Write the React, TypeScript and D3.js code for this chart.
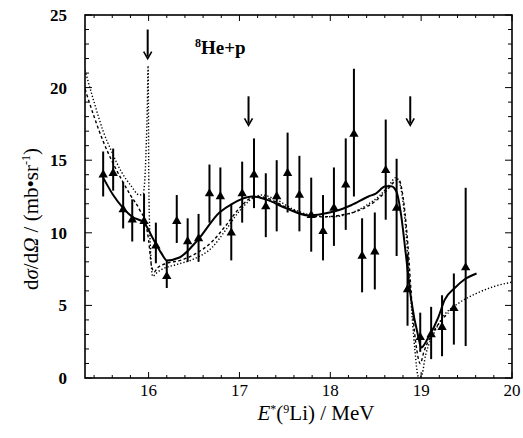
import React, { useEffect, useRef } from 'react';
import * as d3 from 'd3';

// measured points (E in MeV, cross section in mb/sr)
const energies = [15.5, 15.61, 15.72, 15.82, 15.95, 16.08, 16.2, 16.31, 16.43, 16.55, 16.67, 16.79, 16.91, 17.03, 17.16, 17.29, 17.41,
  17.53, 17.66, 17.79, 17.92, 18.04, 18.17, 18.26, 18.35, 18.49, 18.61, 18.73, 18.85, 18.99, 19.11, 19.23, 19.36, 19.49];
const values = [14.0, 14.1, 11.6, 10.9, 10.8, 9.1, 7.0, 10.8, 9.4, 9.6, 12.7, 12.5, 10.0, 12.7, 14.0, 11.8, 12.5,
  14.1, 12.6, 11.2, 10.1, 11.7, 13.3, 16.8, 8.4, 8.7, 14.3, 11.7, 6.1, 2.8, 3.0, 3.5, 4.8, 7.6];
const errLow = [12.5, 12.9, 10.3, 9.4, 9.4, 7.9, 6.2, 9.3, 8.0, 8.0, 10.7, 10.5, 8.1, 10.7, 11.7, 9.7, 10.1,
  11.4, 10.1, 8.7, 8.1, 9.1, 10.2, 12.5, 5.9, 6.1, 10.9, 8.4, 3.6, 1.8, 1.3, 1.5, 2.3, 2.2];
const errHigh = [15.6, 15.8, 13.5, 12.3, 12.7, 10.7, 8.1, 12.6, 11.0, 11.3, 14.7, 14.5, 12.0, 14.9, 16.5, 14.1, 15.0,
  16.9, 15.3, 13.8, 12.6, 14.5, 16.5, 21.3, 11.0, 11.4, 17.8, 15.1, 8.5, 4.5, 4.9, 5.7, 7.2, 13.1];

// R-matrix fit (solid)
const fitE = [15.5, 15.61, 15.72, 15.82, 15.95, 16.04, 16.14, 16.2, 16.34, 16.54, 16.78, 16.92, 17.14, 17.29, 17.51, 17.76, 17.91,
  18.06, 18.23, 18.42, 18.5, 18.61, 18.67, 18.73, 18.78, 18.83, 18.89, 18.97, 19.0, 19.08, 19.19, 19.26, 19.37, 19.48, 19.61];
const fitV = [13.8, 12.6, 11.7, 11.1, 10.7, 9.7, 8.6, 8.1, 8.3, 9.5, 11.4, 12.0, 12.5, 12.3, 11.7, 11.2, 11.3,
  11.5, 11.9, 12.5, 12.7, 13.2, 13.2, 12.8, 11.2, 8.6, 5.4, 2.8, 2.1, 2.8, 4.2, 5.4, 6.2, 6.8, 7.2];

// calculation 1 (fine dots)
const dotE = [15.3, 15.4, 15.5, 15.6, 15.7, 15.8, 15.9, 15.94, 15.965, 15.985, 15.995, 16.003, 16.02, 16.045, 16.08, 16.15, 16.3, 16.5,
  16.7, 16.85, 17.0, 17.15, 17.25, 17.4, 17.6, 17.8, 18.0, 18.2, 18.4, 18.55, 18.65, 18.72, 18.76, 18.82, 18.88, 18.93, 18.97,
  19.0, 19.05, 19.15, 19.25, 19.4, 19.6, 19.8, 20.0];
const dotV = [21.2, 19.0, 17.0, 15.5, 14.2, 13.3, 12.6, 12.7, 14.5, 18.5, 21.5, 13.0, 9.0, 7.0, 7.2, 7.5, 7.8, 8.2,
  9.0, 10.2, 11.5, 12.4, 12.6, 12.3, 11.6, 11.2, 11.1, 11.3, 11.9, 12.6, 13.3, 13.8, 13.5, 11.0, 6.0, 2.0, 0.1,
  0.1, 1.6, 3.2, 4.3, 5.1, 5.8, 6.3, 6.6];

// calculation 2 (dashes)
const dashE = [15.3, 15.4, 15.5, 15.6, 15.7, 15.8, 15.9, 15.97, 16.0, 16.03, 16.06, 16.1, 16.2, 16.35, 16.5, 16.7, 16.85, 17.0,
  17.1, 17.2, 17.3, 17.5, 17.7, 17.9, 18.1, 18.3, 18.5, 18.62, 18.7, 18.75, 18.8, 18.85, 18.9, 18.95, 18.99, 19.03, 19.1, 19.2, 19.3];
const dashV = [19.9, 18.0, 16.3, 14.9, 13.7, 12.6, 11.6, 10.6, 9.5, 7.8, 7.3, 7.6, 7.9, 8.1, 8.5, 9.4, 10.5, 11.7,
  12.3, 12.5, 12.4, 11.8, 11.3, 11.1, 11.2, 11.5, 12.2, 12.9, 13.5, 13.7, 12.5, 9.5, 5.0, 2.0, 1.0, 1.8, 2.8, 3.8, 4.5];

// resonance markers
const arrowE = [15.99, 17.1, 18.88];
const arrowTop = [24.0, 19.4, 19.4];
const arrowTip = [22.0, 17.4, 17.4];

const xTicks = [16, 17, 18, 19, 20];
const yTicks = [0, 5, 10, 15, 20, 25];

const W = 523, H = 438;
const margin = { left: 85, right: 11, top: 15, bottom: 60 };
const serif = '"Liberation Serif", "DejaVu Serif", serif';

function Chart() {
  const ref = useRef<SVGGElement>(null);

  useEffect(() => {
    const g = d3.select(ref.current);
    g.selectAll('*').remove();

    const x = d3.scaleLinear().domain([15.3, 20]).range([margin.left, W - margin.right]);
    const y = d3.scaleLinear().domain([0, 25]).range([H - margin.bottom, margin.top]);
    const x0 = x.range()[0], x1 = x.range()[1], y0 = y.range()[0], y1 = y.range()[1];

    const clip = g.append('clipPath').attr('id', 'plotclip');
    clip.append('rect').attr('x', x0).attr('y', y1).attr('width', x1 - x0).attr('height', y0 - y1);

    // ticks, inward on all four sides
    const minorX = d3.range(15.4, 20.001, 0.2).map(d => +d.toFixed(1));
    const minorY = d3.range(0, 25.001, 1);
    const tk = g.append('g').attr('stroke', '#000').attr('stroke-width', 1);
    minorX.forEach(v => {
      const big = xTicks.includes(v);
      const len = big ? 6 : 3;
      tk.append('line').attr('x1', x(v)).attr('x2', x(v)).attr('y1', y0).attr('y2', y0 - len);
      tk.append('line').attr('x1', x(v)).attr('x2', x(v)).attr('y1', y1).attr('y2', y1 + len);
    });
    minorY.forEach(v => {
      const big = v % 5 === 0;
      const len = big ? 7 : 4;
      tk.append('line').attr('y1', y(v)).attr('y2', y(v)).attr('x1', x0).attr('x2', x0 + len);
      tk.append('line').attr('y1', y(v)).attr('y2', y(v)).attr('x1', x1).attr('x2', x1 - len);
    });

    g.append('rect')
      .attr('x', x0).attr('y', y1).attr('width', x1 - x0).attr('height', y0 - y1)
      .attr('fill', 'none').attr('stroke', '#000').attr('stroke-width', 1.6);

    g.selectAll('.xl').data(xTicks).enter().append('text')
      .attr('x', d => x(d)).attr('y', y0 + 18)
      .attr('text-anchor', 'middle')
      .style('font-family', serif).style('font-size', '17px')
      .text(d => d);

    g.selectAll('.yl').data(yTicks).enter().append('text')
      .attr('x', x0 - 18).attr('y', d => y(d) + 6)
      .attr('text-anchor', 'end')
      .style('font-family', serif).style('font-size', '17px').style('font-weight', 'bold')
      .text(d => d);

    const plot = g.append('g').attr('clip-path', 'url(#plotclip)');
    const line = d3.line<[number, number]>()
      .x(d => x(d[0])).y(d => y(d[1]))
      .curve(d3.curveMonotoneX);

    plot.append('path')
      .attr('d', line(dotE.map((e, i) => [e, dotV[i]])))
      .attr('fill', 'none').attr('stroke', '#000').attr('stroke-width', 1.4)
      .attr('stroke-dasharray', '1.3,2');
    plot.append('path')
      .attr('d', line(dashE.map((e, i) => [e, dashV[i]])))
      .attr('fill', 'none').attr('stroke', '#000').attr('stroke-width', 1.4)
      .attr('stroke-dasharray', '3,2.5');
    plot.append('path')
      .attr('d', line(fitE.map((e, i) => [e, fitV[i]])))
      .attr('fill', 'none').attr('stroke', '#000').attr('stroke-width', 2);

    // error bars and triangles
    plot.selectAll('.eb').data(energies).enter().append('line')
      .attr('x1', d => x(d)).attr('x2', d => x(d))
      .attr('y1', (d, i) => y(errLow[i])).attr('y2', (d, i) => y(errHigh[i]))
      .attr('stroke', '#000').attr('stroke-width', 2);
    const tri = d3.symbol().type(d3.symbolTriangle).size(38);
    plot.selectAll('.pt').data(energies).enter().append('path')
      .attr('d', tri)
      .attr('transform', (d, i) => `translate(${x(d)},${y(values[i])})`)
      .attr('fill', '#000');

    // arrows
    arrowE.forEach((e, i) => {
      const ax = x(e), ya = y(arrowTop[i]), yb = y(arrowTip[i]);
      g.append('line').attr('x1', ax).attr('x2', ax).attr('y1', ya).attr('y2', yb - 2)
        .attr('stroke', '#000').attr('stroke-width', 2);
      g.append('path')
        .attr('d', `M${ax - 4},${yb - 7} L${ax},${yb} L${ax + 4},${yb - 7}`)
        .attr('fill', 'none').attr('stroke', '#000').attr('stroke-width', 1.6);
    });
  }, []);

  return <g ref={ref} />;
}

export default function App() {
  return (
    <svg width={W} height={H} style={{ position: 'absolute', left: 0, top: 0, background: '#fff' }}>
      <Chart />
      <text x={195} y={54} style={{ fontFamily: serif, fontSize: 19, fontWeight: 'bold' }}>
        <tspan dy={-7} style={{ fontSize: 12 }}>8</tspan>
        <tspan dy={7}>He+p</tspan>
      </text>
      <text x={316} y={420} textAnchor="middle" style={{ fontFamily: serif, fontSize: 21 }}>
        <tspan fontStyle="italic">E</tspan>
        <tspan dy={-7} fontSize={12}>*</tspan>
        <tspan dy={7}>(</tspan>
        <tspan dy={-7} fontSize={12}>9</tspan>
        <tspan dy={7}>Li) / MeV</tspan>
      </text>
      <text transform="translate(38,219) rotate(-90)" textAnchor="middle" style={{ fontFamily: serif, fontSize: 21 }}>
        <tspan>d</tspan>
        <tspan fontStyle="italic">σ</tspan>
        <tspan>/d</tspan>
        <tspan fontStyle="italic">Ω</tspan>
        <tspan> / (mb•sr</tspan>
        <tspan dy={-8} fontSize={12}>-1</tspan>
        <tspan dy={8}>)</tspan>
      </text>
    </svg>
  );
}
